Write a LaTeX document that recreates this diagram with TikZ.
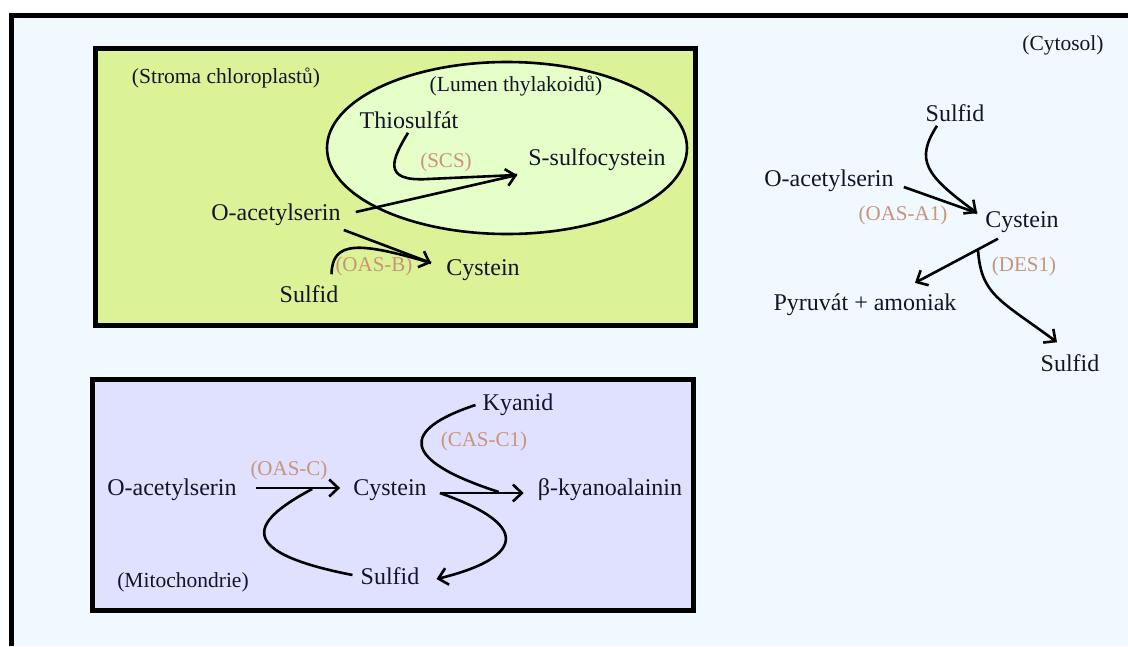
\documentclass[tikz,border=0pt]{standalone}
\usepackage{fontspec}
\setmainfont{Liberation Serif}
\usepackage{tikz}
\usetikzlibrary{arrows.meta,calc,positioning}
\definecolor{cytosol}{HTML}{F0F9FF}
\definecolor{stroma}{HTML}{DCF296}
\definecolor{lumen}{HTML}{E6FFC8}
\definecolor{mito}{HTML}{E0E0FF}
\definecolor{enzyme}{HTML}{C99478}
\definecolor{ink}{HTML}{141428}
\tikzset{
  chem/.style={inner sep=0pt,text=ink,font=\fontsize{24}{28}\selectfont},
  enz/.style={inner sep=0pt,text=enzyme,font=\fontsize{21}{24}\selectfont},
  region/.style={inner sep=0pt,text=ink,font=\fontsize{21.5}{24}\selectfont},
  rxn/.style={line width=2.6,-{Straight Barb[length=9pt,width=17pt]}},
  feedline/.style={line width=2.6}
}

\begin{document}
\begin{tikzpicture}[x=1pt,y=-1pt]
        \useasboundingbox (0,0) rectangle (1128,646);
        \fill[white] (0,0) rectangle (1128,646);
        \fill[cytosol] (12,15) rectangle (1128,646);
        \draw[line width=5] (11.5,646) |- (1128,15.5);
        \draw[line width=5,fill=stroma] (95.5,48.5) rectangle (695.5,325.5);
        \draw[line width=5,fill=mito] (92.5,379.5) rectangle (693,610);
        \draw[line width=2.6,fill=lumen] (507,148) ellipse[x radius=180,y radius=86];
        % regions
        \node[region] (lcyt) at (1063,45) {(Cytosol)};
        \node[region] (lstroma) at (226,78) {(Stroma chloroplastů)};
        \node[region] (llumen) at (516,86) {(Lumen thylakoidů)};
        \node[region] (lmito) at (183,582) {(Mitochondrie)};
        % chloroplast
        \node[chem] (thio) at (409,120) {Thiosulfát};
        \node[chem] (ssulf) at (597,160) {S-sulfocystein};
        \node[chem] (oasg) at (276,215) {O-acetylserin};
        \node[chem] (cysg) at (483,270) {Cystein};
        \node[chem] (sulg) at (309,294) {Sulfid};
        \node[enz] (scs) at (446,162) {(SCS)};
        \node[enz] (oasb) at (374,266) {(OAS-B)};
        \draw[feedline] ($(thio.south)+(-1,4)$) .. controls (393,158) and (380,182) .. (428,179) -- ($(ssulf.west)+(-11,15)$);
        \draw[rxn] ($(oasg.east)+(15,-3)$) -- ($(ssulf.west)+(-11,15)$);
        \draw[rxn] ($(oasg.east)+(3,15)$) -- ($(cysg.west)+(-15,-7)$);
        \draw[feedline] ($(sulg.north east)+(-7,-11)$) .. controls (332,240) and (360,242) .. ($(cysg.west)+(-15,-7)$);
        % cytosol
        \node[chem] (sulc1) at (955,113) {Sulfid};
        \node[chem] (oasc) at (829,181) {O-acetylserin};
        \node[chem] (cysc) at (1022,222) {Cystein};
        \node[chem] (pyr) at (865,305) {Pyruvát + amoniak};
        \node[chem] (sulc2) at (1070,363) {Sulfid};
        \node[enz] (oasa) at (903,215) {(OAS-A1)};
        \node[enz] (des) at (1024,266) {(DES1)};
        \draw[rxn] ($(sulc1.south)+(-18,4)$) .. controls (915,160) and (925,175) .. ($(cysc.west)+(-8,-9)$);
        \draw[feedline] ($(oasc.east)+(10,6)$) -- ($(cysc.west)+(-8,-9)$);
        \draw[rxn] ($(cysc.south)+(-24,6)$) -- ($(pyr.north)+(50,-11)$);
        \draw[rxn] ($(cysc.south)+(-44,17)$) .. controls (981,295) and (1000,300) .. ($(sulc2.north)+(-13,-12)$);
        % mitochondria
        \node[chem] (oasm) at (172,490) {O-acetylserin};
        \node[chem] (cysm) at (390,490) {Cystein};
        \node[chem] (kyan) at (518,405) {Kyanid};
        \node[chem] (bkyan) at (610,490) {β-kyanoalainin};
        \node[chem] (sulm) at (390,576) {Sulfid};
        \node[enz] (oasc1) at (289,470) {(OAS-C)};
        \node[enz] (casc) at (484,441) {(CAS-C1)};
        \draw[rxn] ($(oasm.east)+(19,-2)$) -- ($(cysm.west)+(-13,-2)$);
        \draw[feedline] ($(sulm.west)+(-8,-1)$) .. controls (225,550) and (258,518) .. ($(cysm.west)+(-41,-1)$);
        \draw[rxn] ($(cysm.east)+(13,3)$) -- ($(bkyan.west)+(-14,3)$);
        \draw[feedline] ($(kyan.west)+(-7,0)$) .. controls (400,430) and (400,460) .. ($(bkyan.west)+(-39,2)$);
        \draw[rxn] ($(cysm.east)+(13,3)$) .. controls (540,528) and (515,560) .. ($(sulm.east)+(17,3)$);
      \end{tikzpicture}
\end{document}
